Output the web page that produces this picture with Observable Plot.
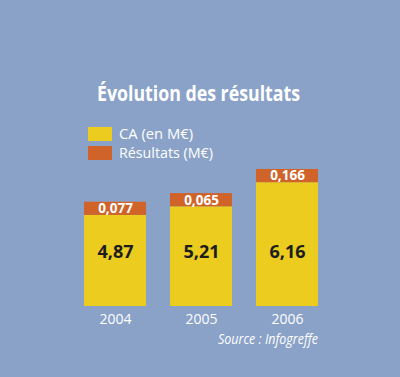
<!DOCTYPE html>
<html>
<head>
<meta charset="utf-8">
<script src="https://cdn.jsdelivr.net/npm/d3@7"></script>
<script src="https://cdn.jsdelivr.net/npm/@observablehq/plot@0.6"></script>
<style>
  html, body { margin: 0; padding: 0; background: #8aa2c7; }
  #chart { width: 400px; height: 377px; background: #8aa2c7; }
  svg { display: block; }
</style>
</head>
<body>
<div id="chart"></div>
<script>
// Data
const years = ["2004", "2005", "2006"];
const ca = [4.87, 5.21, 6.16];          // CA (en M€)
const resultats = [0.077, 0.065, 0.166]; // Résultats (M€)
const seriesNames = ["CA (en M€)", "Résultats (M€)"];
const title = "Évolution des résultats";
const source = "Source : Infogreffe";

const yellow = "#ebcc1f";
const orange = "#cf6329";

const fr = v => String(v).replace(".", ",");
const data = years.map((y, i) => ({year: y, ca: ca[i], res: resultats[i]}));

const yBase = 1.28;   // scale origin (truncated axis as in the original)
const band = 0.52;    // label band height for the résultats segment

const chart = Plot.plot({
  width: 400,
  height: 377,
  marginTop: 0,
  marginBottom: 71,
  marginLeft: 84,
  marginRight: 82,
  style: {background: "transparent", fontFamily: "'Open Sans', sans-serif", fontSize: "14px", color: "white"},
  x: {domain: years, paddingInner: 0.28, paddingOuter: 0},
  y: {domain: [yBase, 13.34], axis: null},
  marks: [
    Plot.barY(data, {x: "year", y1: () => yBase, y2: "ca", fill: yellow, inset: 0}),
    Plot.barY(data, {x: "year", y1: "ca", y2: d => d.ca + band, fill: orange, inset: 0}),
    Plot.text(data, {x: "year", y: d => d.ca + band / 2, text: d => fr(d.res), fill: "white", fontWeight: "bold", fontSize: 13.5}),
    Plot.text(data, {x: "year", frameAnchor: "bottom", dy: -49, text: d => fr(d.ca), fill: "#1d1d1d", fontWeight: "bold", fontSize: 18}),
    Plot.axisX({tickSize: 0, tickPadding: 8, fontSize: 14, fill: "white", label: null})
  ]
});
document.getElementById("chart").appendChild(chart);

// Title, legend, source
const svg = d3.select(chart);
svg.append("text")
  .attr("x", 198.5).attr("y", 100.7)
  .attr("text-anchor", "middle")
  .attr("fill", "white")
  .attr("font-family", "'Open Sans', sans-serif")
  .attr("font-weight", "bold")
  .attr("font-size", 22)
  .attr("textLength", 203).attr("lengthAdjust", "spacingAndGlyphs")
  .text(title);

const legendColors = [yellow, orange];
const legendWidths = [74, 94];
seriesNames.forEach((name, i) => {
  const g = svg.append("g").attr("transform", `translate(88,${127 + i * 19})`);
  g.append("rect").attr("width", 24).attr("height", 14).attr("fill", legendColors[i]);
  g.append("text")
    .attr("x", 31).attr("y", 11.5)
    .attr("text-anchor", "start")
    .attr("fill", "white")
    .attr("font-family", "'Open Sans', sans-serif")
    .attr("font-size", 15)
    .attr("textLength", legendWidths[i]).attr("lengthAdjust", "spacingAndGlyphs")
    .text(name);
});

svg.append("text")
  .attr("x", 318).attr("y", 344.3)
  .attr("text-anchor", "end")
  .attr("fill", "white")
  .attr("font-family", "'Open Sans', sans-serif")
  .attr("font-style", "italic")
  .attr("font-size", 14)
  .attr("textLength", 100).attr("lengthAdjust", "spacingAndGlyphs")
  .text(source);
</script>
</body>
</html>
